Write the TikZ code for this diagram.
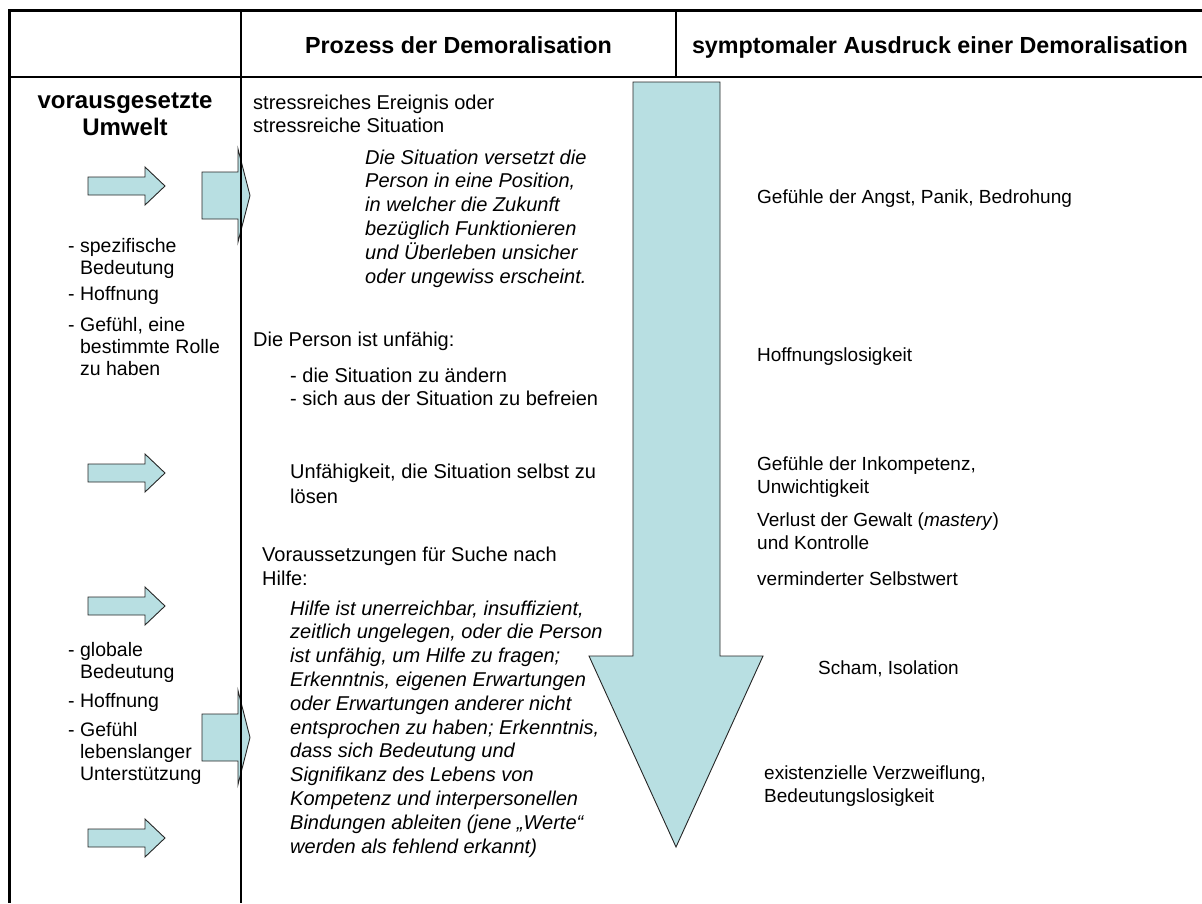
\documentclass[tikz,border=0pt]{standalone}
\usepackage{fontspec}
\setmainfont{Liberation Sans}
\definecolor{arrowfill}{RGB}{184,223,226}
\begin{document}
\begin{tikzpicture}[x=1pt,y=-1pt,
  blockarrow/.style={fill=arrowfill, draw=black!85, line width=0.9pt, line join=miter},
  rule/.style={line width=1.2pt, draw=black},
  thickrule/.style={line width=3pt, draw=black},
  txt/.style={font=\fontsize{20}{23}\selectfont, inner sep=0pt, anchor=base west, align=left},
  itxt/.style={font=\fontsize{20}{23.8}\selectfont\itshape, inner sep=0pt, anchor=base west, align=left},
  rtxt/.style={font=\fontsize{19}{23}\selectfont, inner sep=0pt, anchor=base west, align=left},
  lst/.style={font=\fontsize{19.5}{22.3}\selectfont, inner sep=0pt, anchor=base west, align=left},
  head/.style={font=\fontsize{23.3}{27}\selectfont\bfseries, inner sep=0pt, anchor=base, align=center}]
\useasboundingbox (0,0) rectangle (1202,903);

% big downward arrow
\draw[blockarrow] (633,82) -- (720,82) -- (720,656) -- (763,656) -- (676,847) -- (589,656) -- (633,656) -- cycle;

% big arrows into the middle column
\draw[blockarrow] (202,172) -- (238,172) -- (238,149) -- (250,195.5) -- (238,242) -- (238,219) -- (202,219) -- cycle;
\draw[blockarrow] (202,714) -- (238,714) -- (238,690.5) -- (250,737.5) -- (238,784.5) -- (238,761) -- (202,761) -- cycle;

% small arrows in the left column
\foreach \c in {186,473,606,838}{
  \draw[blockarrow] (88,\c-9) -- (145,\c-9) -- (145,\c-19) -- (165,\c) -- (145,\c+19) -- (145,\c+9) -- (88,\c+9) -- cycle;
}

% table rules
\draw[thickrule] (8,10.5) -- (1202,10.5);
\draw[thickrule] (9.5,9) -- (9.5,903);
\draw[rule] (9,77) -- (1202,77);
\draw[rule] (241,10) -- (241,903);
\draw[rule] (676,10) -- (676,77);

% header
\node[head] (h1) at (458.5,53) {Prozess der Demoralisation};
\node[head] (h2) at (940,53) {symptomaler Ausdruck einer Demoralisation};

% left column (anchor = baseline of the last line)
\node[head, font=\fontsize{24}{27}\selectfont\bfseries] (l0) at (125,135) {vorausgesetzte\\Umwelt};
\node[lst] (l1) at (68,274.3) {- spezifische\\\phantom{- }Bedeutung};
\node[lst] (l2) at (68,300) {- Hoffnung};
\node[lst] (l3) at (68,375.6) {- Gefühl, eine\\\phantom{- }bestimmte Rolle\\\phantom{- }zu haben};
\node[lst] (l4) at (68,678.3) {- globale\\\phantom{- }Bedeutung};
\node[lst] (l5) at (68,707) {- Hoffnung};
\node[lst] (l6) at (68,780.6) {- Gefühl\\\phantom{- }lebenslanger\\\phantom{- }Unterstützung};

% middle column
\node[txt] (m1) at (253,132) {stressreiches Ereignis oder\\stressreiche Situation};
\node[itxt] (m2) at (365,283) {Die Situation versetzt die\\Person in eine Position,\\in welcher die Zukunft\\bezüglich Funktionieren\\und Überleben unsicher\\oder ungewiss erscheint.};
\node[txt] (m3) at (253,346) {Die Person ist unfähig:};
\node[txt] (m4) at (290,405) {- die Situation zu ändern\\- sich aus der Situation zu befreien};
\node[txt, font=\fontsize{20}{25}\selectfont] (m5) at (290,503) {Unfähigkeit, die Situation selbst zu\\lösen};
\node[txt, font=\fontsize{20}{24}\selectfont] (m6) at (262,585) {Voraussetzungen für Suche nach\\Hilfe:};
\node[itxt] (m7) at (290,853) {Hilfe ist unerreichbar, insuffizient,\\zeitlich ungelegen, oder die Person\\ist unfähig, um Hilfe zu fragen;\\Erkenntnis, eigenen Erwartungen\\oder Erwartungen anderer nicht\\entsprochen zu haben; Erkenntnis,\\dass sich Bedeutung und\\Signifikanz des Lebens von\\Kompetenz und interpersonellen\\Bindungen ableiten (jene „Werte“\\werden als fehlend erkannt)};

% right column
\node[rtxt] (r1) at (757,203) {Gefühle der Angst, Panik, Bedrohung};
\node[rtxt] (r2) at (757,361) {Hoffnungslosigkeit};
\node[rtxt] (r3) at (757,493) {Gefühle der Inkompetenz,\\Unwichtigkeit};
\node[rtxt] (r4) at (757,549) {Verlust der Gewalt (\textit{mastery})\\und Kontrolle};
\node[rtxt] (r5) at (757,585) {verminderter Selbstwert};
\node[rtxt] (r6) at (818,674) {Scham, Isolation};
\node[rtxt] (r7) at (764,802) {existenzielle Verzweiflung,\\Bedeutungslosigkeit};
\end{tikzpicture}
\end{document}
